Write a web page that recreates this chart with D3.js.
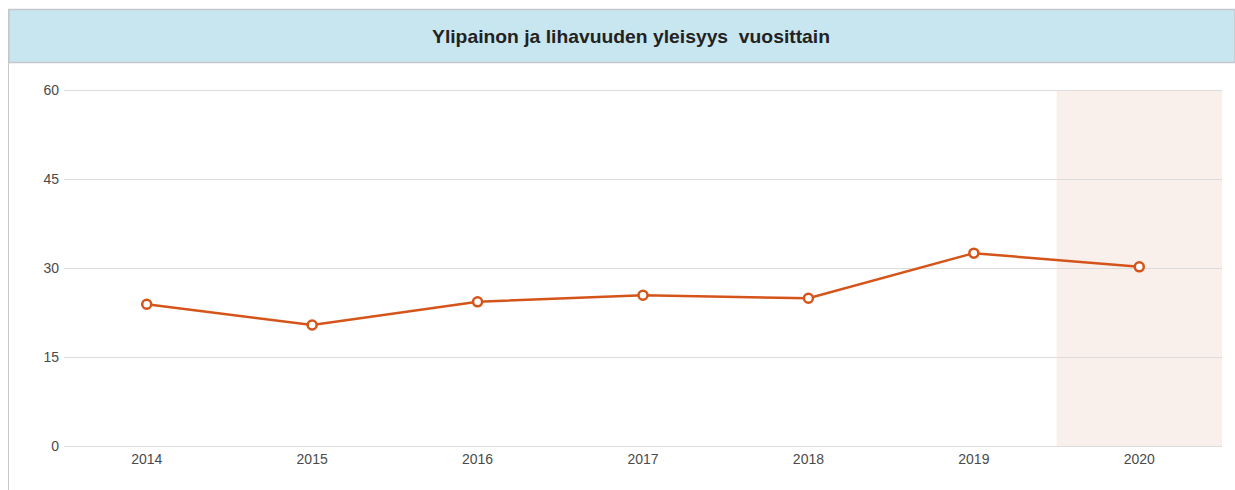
<!DOCTYPE html>
<html lang="fi">
<head>
<meta charset="UTF-8">
<title>Ylipainon ja lihavuuden yleisyys vuosittain</title>
<style>
* { margin: 0; padding: 0; box-sizing: border-box; }
body { width: 1235px; height: 490px; background: #fff; overflow: hidden; font-family: "Liberation Sans", Arial, sans-serif; }
svg { display: block; }
.grid line { stroke: #dcdcdc; stroke-width: 1; }
.grid path { display: none; }
.axis text { fill: #4a4a4a; font-size: 14px; font-family: "Liberation Sans", Arial, sans-serif; }
.axis path, .axis line { display: none; }
.title { font-size: 19px; font-weight: bold; fill: #222; }
</style>
</head>
<body>
<div id="chart"></div>
<script src="https://d3js.org/d3.v7.min.js"></script>
<script>
// Values
var years = ["2014", "2015", "2016", "2017", "2018", "2019", "2020"];
var prevalence = [23.9, 20.4, 24.3, 25.4, 24.9, 32.5, 30.2];
var yTicks = [0, 15, 30, 45, 60];
var highlightYears = ["2020"];
var titleText = "Ylipainon ja lihavuuden yleisyys\u00a0 vuosittain";

var width = 1235, height = 490;
var plot = { left: 64, right: 1222, top: 90, bottom: 446 };

var svg = d3.select("#chart").append("svg")
	.attr("width", width)
	.attr("height", height);

// Panel frame and header band
svg.append("line")
	.attr("x1", 8.5).attr("x2", 8.5).attr("y1", 9).attr("y2", height)
	.attr("stroke", "#c8c8c8");
svg.append("rect")
	.attr("x", 9).attr("y", 9.5)
	.attr("width", width - 9).attr("height", 53)
	.attr("fill", "#c8e6ef")
	.attr("stroke", "#c4c8cc")
	.attr("stroke-width", 1.5);
svg.append("text")
	.attr("class", "title")
	.attr("x", 631).attr("y", 43)
	.attr("text-anchor", "middle")
	.attr("textLength", 398)
	.attr("lengthAdjust", "spacingAndGlyphs")
	.text(titleText);

var x = d3.scaleBand().domain(years).range([plot.left, plot.right]);
var y = d3.scaleLinear().domain([0, 60]).range([plot.bottom, plot.top]);

// Highlighted (latest) year band
svg.append("g").selectAll("rect").data(highlightYears).join("rect")
	.attr("x", function(d) { return x(d); })
	.attr("y", y(60))
	.attr("width", x.bandwidth())
	.attr("height", y(0) - y(60))
	.attr("fill", "#f9f0eb");

// Horizontal gridlines
svg.append("g")
	.attr("class", "grid")
	.attr("transform", "translate(" + plot.left + ",0)")
	.call(d3.axisLeft(y).tickValues(yTicks).tickSize(-(plot.right - plot.left)).tickFormat(""));

// Y axis labels
svg.append("g")
	.attr("class", "axis")
	.attr("transform", "translate(" + plot.left + ",0)")
	.call(d3.axisLeft(y).tickValues(yTicks).tickSize(0).tickPadding(5));

// X axis labels
svg.append("g")
	.attr("class", "axis")
	.attr("transform", "translate(0," + plot.bottom + ")")
	.call(d3.axisBottom(x).tickSize(0).tickPadding(8));

var points = years.map(function(yr, i) { return { year: yr, value: prevalence[i] }; });

var line = d3.line()
	.x(function(d) { return x(d.year) + x.bandwidth() / 2; })
	.y(function(d) { return y(d.value); });

svg.append("path")
	.datum(points)
	.attr("d", line)
	.attr("fill", "none")
	.attr("stroke", "#d4541a")
	.attr("stroke-width", 2.5);

svg.append("g").selectAll("circle").data(points).join("circle")
	.attr("cx", function(d) { return x(d.year) + x.bandwidth() / 2; })
	.attr("cy", function(d) { return y(d.value); })
	.attr("r", 4.5)
	.attr("fill", "#fff")
	.attr("stroke", "#d4541a")
	.attr("stroke-width", 2.5);
</script>
</body>
</html>
